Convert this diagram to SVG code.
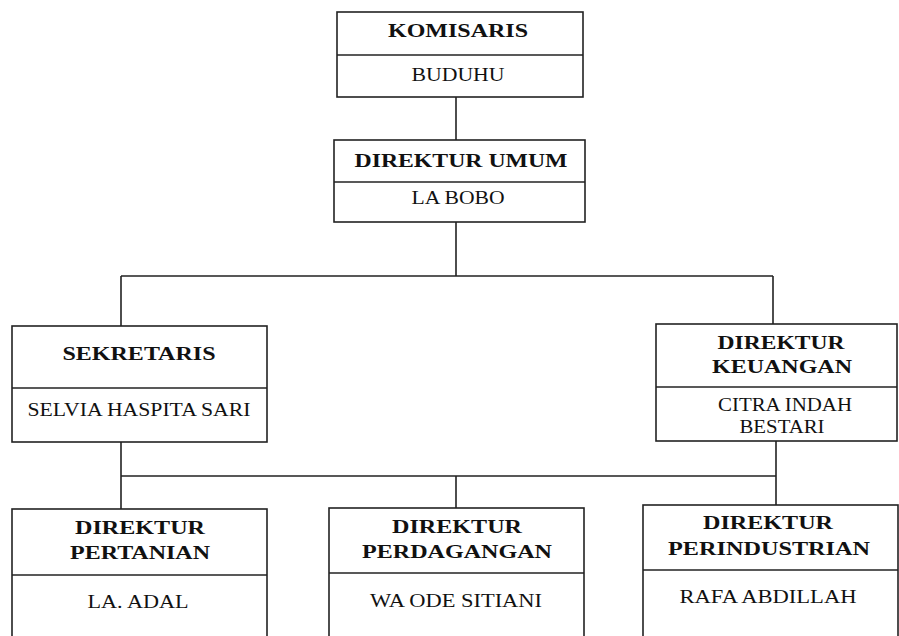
<svg xmlns="http://www.w3.org/2000/svg" width="899" height="636" viewBox="0 0 899 636">
<style>
.box{fill:#fff;stroke:#222;stroke-width:1.6}
.div{stroke:#222;stroke-width:1.6}
.con{fill:none;stroke:#222;stroke-width:1.6}
text{font-family:"Liberation Serif","Times New Roman",serif;font-size:18px;fill:#111;text-anchor:middle}
.t{font-weight:bold}
</style>
<rect width="899" height="636" fill="#fff"/>
<g id="connectors">
<path class="con" d="M456 97V140M456 222V276M121 276H773M121 276V326M773 276V324M121 442V476M776 441V505M121 476H776M121 476V509M456 476V508"/>
</g>
<g id="komisaris">
<rect class="box" x="337" y="12" width="246" height="85"/>
<line class="div" x1="337" y1="55" x2="583" y2="55"/>
<text class="t" x="458" y="37" textLength="140" lengthAdjust="spacingAndGlyphs">KOMISARIS</text>
<text x="458" y="81" textLength="93" lengthAdjust="spacingAndGlyphs">BUDUHU</text>
</g>
<g id="direktur-umum">
<rect class="box" x="334" y="140" width="251" height="82"/>
<line class="div" x1="334" y1="182" x2="585" y2="182"/>
<text class="t" x="461" y="167" textLength="213" lengthAdjust="spacingAndGlyphs">DIREKTUR UMUM</text>
<text x="458" y="204" textLength="93" lengthAdjust="spacingAndGlyphs">LA BOBO</text>
</g>
<g id="sekretaris">
<rect class="box" x="12" y="326" width="255" height="116"/>
<line class="div" x1="12" y1="388" x2="267" y2="388"/>
<text class="t" x="139" y="360" textLength="153" lengthAdjust="spacingAndGlyphs">SEKRETARIS</text>
<text x="139" y="416" textLength="223" lengthAdjust="spacingAndGlyphs">SELVIA HASPITA SARI</text>
</g>
<g id="direktur-keuangan">
<rect class="box" x="656" y="324" width="241" height="117"/>
<line class="div" x1="656" y1="387" x2="897" y2="387"/>
<text class="t" x="781" y="349" textLength="127" lengthAdjust="spacingAndGlyphs">DIREKTUR</text>
<text class="t" x="782" y="373" textLength="140" lengthAdjust="spacingAndGlyphs">KEUANGAN</text>
<text x="785" y="411" textLength="134" lengthAdjust="spacingAndGlyphs">CITRA INDAH</text>
<text x="782" y="433" textLength="85" lengthAdjust="spacingAndGlyphs">BESTARI</text>
</g>
<g id="direktur-pertanian">
<rect class="box" x="12" y="509" width="255" height="140"/>
<line class="div" x1="12" y1="575" x2="267" y2="575"/>
<text class="t" x="140" y="534" textLength="130" lengthAdjust="spacingAndGlyphs">DIREKTUR</text>
<text class="t" x="140" y="559" textLength="140" lengthAdjust="spacingAndGlyphs">PERTANIAN</text>
<text x="138" y="608" textLength="101" lengthAdjust="spacingAndGlyphs">LA. ADAL</text>
</g>
<g id="direktur-perdagangan">
<rect class="box" x="329" y="508" width="255" height="140"/>
<line class="div" x1="329" y1="573" x2="584" y2="573"/>
<text class="t" x="457" y="533" textLength="130" lengthAdjust="spacingAndGlyphs">DIREKTUR</text>
<text class="t" x="457" y="558" textLength="190" lengthAdjust="spacingAndGlyphs">PERDAGANGAN</text>
<text x="456" y="607" textLength="172" lengthAdjust="spacingAndGlyphs">WA ODE SITIANI</text>
</g>
<g id="direktur-perindustrian">
<rect class="box" x="643" y="505" width="255" height="140"/>
<line class="div" x1="643" y1="570" x2="898" y2="570"/>
<text class="t" x="768" y="529" textLength="130" lengthAdjust="spacingAndGlyphs">DIREKTUR</text>
<text class="t" x="769" y="555" textLength="202" lengthAdjust="spacingAndGlyphs">PERINDUSTRIAN</text>
<text x="768" y="603" textLength="177" lengthAdjust="spacingAndGlyphs">RAFA ABDILLAH</text>
</g>
</svg>
